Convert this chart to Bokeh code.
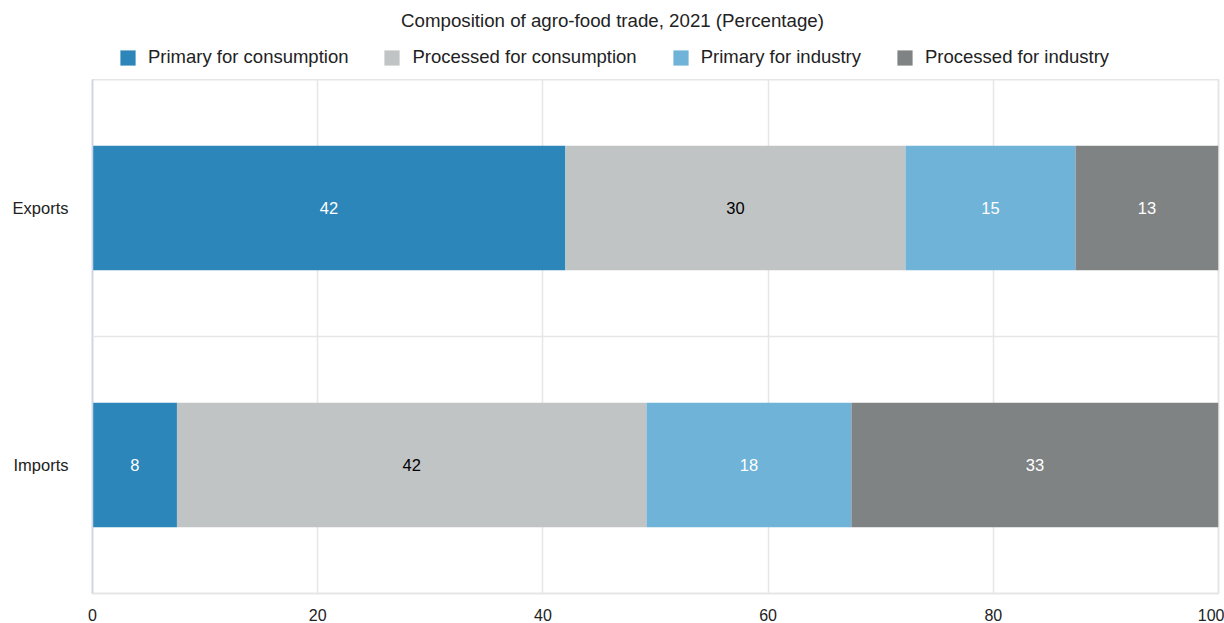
from bokeh.plotting import figure
from bokeh.layouts import column
from bokeh.models import (ColumnDataSource, FactorRange, Range1d, FixedTicker,
                          Span, Label, Legend, LegendItem)
from bokeh.core.properties import value
from bokeh.embed import file_html
from bokeh.resources import INLINE

# Composition of agro-food trade, 2021 (percent of each flow)
flows = ["Imports", "Exports"]
series = ["Primary for consumption", "Processed for consumption",
          "Primary for industry", "Processed for industry"]
exports = [42.0, 30.2, 15.1, 12.7]
imports = [7.5, 41.7, 18.2, 32.6]
x_ticks = [0, 20, 40, 60, 80, 100]

colors = ["#2c86b9", "#c1c4c5", "#6fb3d8", "#808384"]
label_colors = ["#ffffff", "#000000", "#ffffff", "#ffffff"]
FONT = "Liberation Sans"
TEXT = "#222222"

values_by_flow = {"Exports": exports, "Imports": imports}

# ---- header strip: title and legend (its frame lines up with the bar frame) ----
head = figure(width=1224, height=79, output_backend="svg", toolbar_location=None,
              x_range=Range1d(0, 1), y_range=Range1d(0, 1),
              x_axis_type=None, y_axis_type=None,
              min_border=0)
head.grid.visible = False
head.outline_line_color = None
head.border_fill_color = "white"

head.add_layout(Label(x=520, y=59, x_units="screen", y_units="screen",
                      text="Composition of agro-food trade, 2021 (Percentage)",
                      text_align="center", text_baseline="middle",
                      text_font=FONT, text_font_size="18.7px",
                      text_color=TEXT))

# legend swatches: one off-range bar per series so the legend has a glyph to draw
swatches = []
for name, c in zip(series, colors):
    sw = head.hbar(y=[-5], left=[0], right=[1], height=1,
                   fill_color=c, line_color=None)
    swatches.append(LegendItem(label=name, renderers=[sw]))

legend = Legend(items=swatches, orientation="horizontal", location=(26, 11),
                glyph_width=19, glyph_height=19, label_standoff=11, spacing=34,
                label_height=22, padding=0, margin=0, border_line_color=None,
                background_fill_alpha=0,
                label_text_font=FONT, label_text_font_size="18.5px",
                label_text_color=TEXT, label_text_baseline="middle")
head.add_layout(legend, "center")

# ---- stacked bars ----
p = figure(width=1224, height=544, output_backend="svg", toolbar_location=None,
           y_range=FactorRange(factors=flows, range_padding=0),
           x_range=Range1d(0, 100),
           min_border_left=92, min_border_right=6,
           min_border_top=0, min_border_bottom=0)
p.background_fill_color = "white"
p.border_fill_color = "white"
p.outline_line_color = "#e6e6e6"
p.outline_line_width = 2

for i, name in enumerate(series):
    left, right, mid, txt, ys = [], [], [], [], []
    for flow in flows:
        vals = values_by_flow[flow]
        start = sum(vals[:i])
        left.append(start)
        right.append(start + vals[i])
        mid.append(start + vals[i] / 2)
        txt.append(f"{vals[i]:.0f}")
        ys.append(flow)
    src = ColumnDataSource(dict(y=ys, left=left, right=right, mid=mid, txt=txt))
    p.hbar(y="y", left="left", right="right", height=0.484, source=src,
           fill_color=colors[i], line_color=None)
    p.text(x="mid", y="y", text="txt", source=src, text_align="center",
           text_baseline="middle", text_color=label_colors[i],
           text_font=value(FONT), text_font_size="16.5px")

# separator between the two flows
p.add_layout(Span(location=1.0, dimension="width", line_color="#e6e6e6",
                  line_width=1.5))

p.ygrid.grid_line_color = None
p.xgrid.grid_line_color = "#e6e6e6"
p.xgrid.grid_line_width = 1.5
p.xgrid.ticker = FixedTicker(ticks=x_ticks)

xa = p.xaxis[0]
xa.ticker = FixedTicker(ticks=x_ticks)
xa.axis_line_color = None
xa.major_tick_line_color = None
xa.minor_tick_line_color = None
xa.major_tick_out = 0
xa.major_tick_in = 0
xa.minor_tick_out = 0
xa.major_label_standoff = 15
xa.major_label_text_font = FONT
xa.major_label_text_font_size = "16px"
xa.major_label_text_color = TEXT

ya = p.yaxis[0]
ya.axis_line_color = "#ccd6eb"
ya.axis_line_width = 1.5
ya.major_tick_line_color = None
ya.minor_tick_line_color = None
ya.major_tick_out = 0
ya.major_tick_in = 0
ya.minor_tick_out = 0
ya.major_label_standoff = 24
ya.major_label_text_font = FONT
ya.major_label_text_font_size = "16.5px"
ya.major_label_text_color = TEXT

layout = column(head, p, spacing=0)
open("out.html", "w").write(file_html(layout, INLINE))
